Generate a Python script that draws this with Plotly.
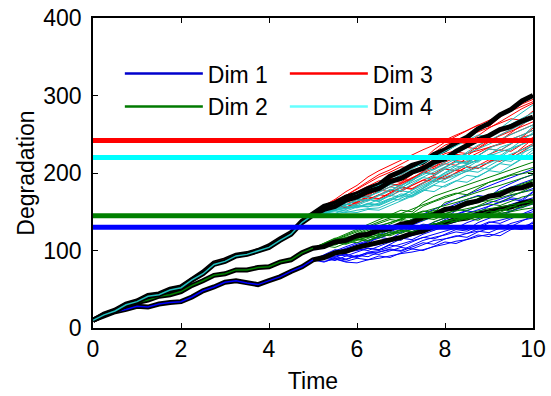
import plotly.graph_objects as go

# ---------------- data ----------------
TIME = [0.0, 0.25, 0.5, 0.75, 1.0, 1.25, 1.5, 1.75, 2.0, 2.25, 2.5, 2.75, 3.0, 3.25,
        3.5, 3.75, 4.0, 4.25, 4.5, 4.75, 5.0, 5.25, 5.5, 5.75, 6.0, 6.25, 6.5, 6.75,
        7.0, 7.25, 7.5, 7.75, 8.0, 8.25, 8.5, 8.75, 9.0, 9.25, 9.5, 9.75, 10.0]
OBS_END = 20  # index of t = 5 (end of observed part)
FAN_TIME = TIME[OBS_END:]

DIM_NAMES = ["Dim 1", "Dim 2", "Dim 3", "Dim 4"]

TRUE_DIM1 = [10, 15, 21, 24, 28, 27, 31, 33, 34, 40, 48, 53, 59, 61, 58, 56, 61, 66, 73, 79,
             88, 91, 97, 99, 104, 107, 110, 113, 117, 122, 125, 131, 135, 140, 142, 147,
             150, 154, 156, 161, 164]
TRUE_DIM2 = [10, 17, 22, 29, 33, 36, 41, 43, 47, 55, 61, 68, 70, 75, 75, 78, 79, 85, 88, 97,
             103, 105, 111, 113, 119, 121, 126, 128, 134, 136, 143, 146, 153, 155, 161, 164,
             170, 172, 179, 181, 186]
TRUE_DIM3 = [10, 18, 23, 31, 35, 42, 44, 50, 53, 63, 72, 84, 88, 94, 96, 100, 106, 115, 123,
             138, 148, 157, 161, 169, 173, 180, 185, 196, 202, 210, 214, 224, 230, 239, 246,
             257, 264, 275, 282, 293, 300]
TRUE_DIM4 = [10, 17, 22, 30, 34, 41, 43, 49, 52, 62, 70, 82, 86, 93, 95, 99, 104, 113, 121,
             136, 146, 153, 157, 165, 169, 176, 180, 189, 193, 201, 206, 214, 218, 228, 235,
             243, 248, 256, 260, 267, 272]

FAN_DIM1 = [
    [88, 86, 89, 85, 84, 88, 90, 93, 96, 98, 101, 105, 108, 112, 114, 118, 121, 119, 127, 131, 135],
    [88, 91, 93, 95, 92, 98, 100, 104, 108, 112, 116, 121, 125, 129, 127, 136, 142, 147, 151, 156, 160],
    [88, 92, 96, 100, 103, 107, 110, 115, 113, 124, 131, 137, 142, 147, 152, 157, 161, 166, 171, 175, 180],
    [88, 93, 99, 104, 108, 113, 118, 124, 130, 136, 143, 149, 155, 160, 166, 171, 169, 180, 187, 193, 198],
    [88, 90, 87, 93, 91, 96, 95, 99, 104, 102, 108, 113, 115, 118, 122, 125, 123, 129, 135, 139, 142],
    [88, 91, 95, 98, 100, 103, 101, 108, 115, 119, 124, 128, 133, 137, 142, 147, 151, 155, 160, 164, 168],
    [88, 93, 98, 102, 106, 111, 115, 121, 127, 133, 139, 144, 142, 152, 161, 166, 171, 176, 181, 187, 192],
    [88, 90, 92, 89, 93, 97, 98, 102, 100, 106, 113, 117, 120, 124, 122, 128, 136, 139, 143, 147, 150],
    [88, 92, 95, 99, 102, 105, 108, 113, 118, 123, 128, 126, 138, 143, 148, 153, 158, 162, 166, 164, 175],
    [88, 94, 100, 105, 110, 108, 120, 127, 133, 140, 147, 153, 160, 166, 172, 178, 184, 189, 194, 200, 205],
    [88, 85, 90, 88, 94, 92, 98, 101, 99, 105, 110, 108, 115, 119, 117, 124, 129, 133, 131, 138, 145],
    [88, 93, 91, 97, 102, 100, 106, 111, 116, 114, 121, 126, 131, 129, 136, 141, 146, 144, 151, 157, 163],
    [88, 91, 89, 86, 90, 88, 93, 91, 97, 102, 100, 106, 111, 109, 115, 120, 118, 124, 129, 127, 137],
    [88, 95, 101, 99, 106, 112, 117, 115, 123, 129, 134, 132, 140, 146, 151, 149, 157, 163, 168, 166, 176],
    [88, 90, 95, 93, 98, 103, 101, 107, 105, 111, 117, 115, 121, 127, 125, 131, 137, 135, 141, 148, 153],
]
FAN_DIM2 = [
    [103, 107, 111, 109, 115, 121, 125, 130, 135, 140, 145, 150, 155, 152, 160, 167, 172, 176, 181, 186, 190],
    [103, 108, 114, 119, 124, 130, 135, 140, 138, 148, 157, 163, 168, 173, 178, 184, 189, 194, 199, 203, 207],
    [103, 106, 109, 111, 114, 112, 118, 121, 124, 127, 130, 134, 138, 140, 142, 139, 146, 148, 150, 153, 155],
    [103, 108, 112, 117, 121, 126, 130, 136, 141, 146, 151, 149, 162, 166, 171, 175, 180, 184, 189, 193, 198],
    [103, 106, 110, 113, 116, 119, 122, 126, 131, 135, 139, 144, 148, 151, 154, 157, 160, 158, 164, 169, 172],
    [103, 109, 115, 121, 127, 134, 140, 146, 152, 150, 162, 170, 175, 180, 185, 190, 195, 200, 205, 209, 214],
    [103, 107, 112, 116, 120, 124, 128, 126, 134, 140, 144, 148, 152, 155, 158, 162, 165, 168, 172, 175, 178],
    [103, 107, 112, 117, 116, 124, 132, 136, 141, 145, 150, 154, 158, 162, 166, 170, 168, 176, 181, 185, 188],
    [103, 105, 108, 111, 114, 117, 120, 123, 127, 130, 128, 137, 142, 145, 148, 151, 154, 156, 159, 161, 163],
    [103, 108, 114, 120, 126, 131, 137, 142, 148, 153, 159, 164, 170, 174, 172, 180, 188, 192, 197, 199, 202],
    [103, 106, 104, 110, 115, 113, 119, 124, 122, 128, 133, 131, 137, 142, 140, 146, 151, 149, 156, 161, 166],
    [103, 109, 107, 114, 120, 118, 125, 131, 129, 136, 142, 140, 147, 153, 151, 158, 164, 162, 169, 176, 183],
    [103, 105, 110, 108, 113, 118, 116, 121, 126, 124, 130, 135, 133, 139, 144, 142, 148, 153, 151, 157, 160],
    [103, 110, 116, 114, 122, 128, 126, 134, 140, 138, 146, 152, 150, 158, 164, 162, 170, 176, 174, 182, 192],
    [103, 104, 108, 112, 110, 116, 121, 119, 125, 130, 128, 134, 139, 137, 143, 148, 146, 152, 157, 155, 162],
]
FAN_DIM3 = [
    [148, 151, 156, 154, 160, 166, 172, 170, 178, 184, 190, 197, 205, 203, 211, 218, 224, 230, 228, 237, 246],
    [148, 153, 158, 163, 161, 172, 180, 186, 192, 190, 200, 210, 220, 226, 233, 231, 240, 249, 256, 264, 270],
    [148, 155, 162, 168, 176, 183, 190, 188, 198, 207, 215, 224, 232, 240, 238, 248, 258, 266, 275, 283, 290],
    [148, 156, 165, 171, 180, 190, 198, 204, 212, 219, 217, 230, 240, 247, 255, 262, 260, 272, 281, 289, 295],
    [148, 152, 160, 166, 171, 179, 185, 190, 188, 198, 208, 218, 225, 229, 234, 240, 244, 242, 250, 256, 262],
    [148, 150, 157, 155, 163, 170, 176, 182, 187, 194, 200, 206, 212, 210, 219, 226, 233, 238, 243, 249, 255],
    [148, 157, 163, 171, 178, 186, 195, 201, 208, 206, 216, 227, 236, 241, 248, 253, 259, 264, 270, 268, 280],
    [148, 154, 159, 166, 172, 170, 182, 188, 193, 199, 206, 212, 218, 224, 222, 232, 242, 248, 254, 260, 266],
    [148, 158, 166, 176, 184, 195, 203, 210, 217, 223, 230, 236, 243, 249, 255, 262, 268, 274, 280, 286, 292],
    [148, 153, 157, 164, 168, 173, 178, 176, 186, 193, 202, 208, 215, 220, 225, 229, 233, 237, 241, 246, 250],
    [148, 154, 152, 159, 166, 164, 172, 178, 176, 184, 191, 189, 197, 204, 202, 210, 217, 215, 223, 230, 238],
    [148, 156, 154, 163, 171, 169, 178, 186, 184, 193, 201, 199, 208, 216, 214, 223, 231, 229, 238, 246, 258],
    [148, 152, 158, 156, 163, 169, 167, 175, 182, 180, 188, 195, 193, 201, 208, 206, 214, 221, 219, 228, 236],
    [148, 159, 157, 167, 176, 174, 184, 193, 191, 201, 210, 208, 218, 227, 225, 235, 244, 242, 252, 261, 272],
    [148, 151, 157, 155, 162, 168, 166, 174, 181, 179, 187, 194, 192, 200, 208, 206, 215, 223, 221, 232, 244],
]
FAN_DIM4 = [
    [146, 149, 151, 149, 152, 154, 155, 161, 167, 174, 180, 188, 195, 199, 205, 210, 213, 219, 224, 230, 235],
    [146, 150, 153, 157, 155, 160, 165, 171, 169, 178, 188, 197, 205, 210, 216, 214, 224, 233, 238, 244, 250],
    [146, 152, 157, 163, 166, 171, 175, 182, 180, 190, 200, 210, 218, 216, 227, 236, 242, 249, 256, 263, 270],
    [146, 153, 160, 166, 172, 178, 183, 190, 198, 205, 213, 220, 228, 235, 242, 249, 247, 258, 268, 278, 288],
    [146, 149, 152, 155, 157, 159, 160, 166, 173, 171, 181, 191, 200, 206, 211, 217, 222, 227, 232, 237, 242],
    [146, 151, 155, 160, 158, 164, 170, 177, 184, 191, 198, 205, 212, 218, 225, 231, 237, 243, 250, 256, 262],
    [146, 148, 147, 150, 149, 153, 152, 158, 164, 170, 178, 185, 192, 197, 202, 207, 205, 213, 220, 226, 232],
    [146, 152, 158, 163, 169, 174, 178, 185, 192, 200, 207, 204, 215, 225, 233, 241, 249, 256, 263, 271, 278],
    [146, 150, 155, 159, 164, 166, 163, 172, 181, 188, 195, 201, 208, 214, 212, 222, 232, 238, 243, 249, 255],
    [146, 148, 152, 154, 156, 157, 158, 164, 171, 178, 185, 191, 198, 204, 211, 217, 222, 220, 230, 238, 245],
    [146, 150, 148, 153, 158, 156, 162, 167, 165, 172, 178, 176, 184, 190, 188, 196, 203, 201, 210, 218, 226],
    [146, 153, 151, 159, 166, 164, 172, 179, 177, 186, 194, 192, 201, 209, 207, 216, 224, 222, 232, 241, 252],
    [146, 148, 153, 151, 156, 161, 159, 165, 171, 169, 177, 184, 182, 190, 197, 195, 204, 212, 210, 219, 230],
    [146, 155, 153, 162, 170, 168, 177, 185, 183, 192, 200, 198, 207, 215, 213, 222, 231, 229, 238, 247, 260],
    [146, 151, 156, 154, 160, 166, 164, 171, 177, 175, 183, 190, 188, 196, 203, 201, 209, 217, 215, 224, 238],
]

THRESHOLDS = [130, 145, 242, 220]

# ---------------- styling ----------------
LINE_COLORS = ["#0000FF", "#008000", "#FF0000", "#1FBFBF"]
THRESH_COLORS = ["#0000FF", "#008000", "#FF0000", "#00FFFF"]
LEGEND_COLORS = ["#0000CC", "#007A00", "#FF0000", "#66FFFF"]
LEGEND_RANK = [1, 3, 2, 4]  # two-column layout: Dim1 Dim3 / Dim2 Dim4

TRUES = [TRUE_DIM1, TRUE_DIM2, TRUE_DIM3, TRUE_DIM4]
FANS = [FAN_DIM1, FAN_DIM2, FAN_DIM3, FAN_DIM4]

fig = go.Figure()

for i in range(4):
    true = TRUES[i]
    # fan of predicted paths
    fx, fy = [], []
    for path in FANS[i]:
        fx += FAN_TIME + [None]
        fy += path + [None]
    fig.add_trace(go.Scatter(x=fx, y=fy, mode="lines", showlegend=False,
                             line=dict(color=LINE_COLORS[i], width=1),
                             hoverinfo="skip"))
    # true degradation path (thick black)
    fig.add_trace(go.Scatter(x=TIME, y=true, mode="lines", showlegend=False,
                             line=dict(color="black", width=5), hoverinfo="skip"))
    # observed part in dimension colour
    fig.add_trace(go.Scatter(x=TIME[:OBS_END + 1], y=true[:OBS_END + 1], mode="lines",
                             showlegend=False, line=dict(color=LINE_COLORS[i], width=1.5),
                             hoverinfo="skip"))

for i in range(4):
    fig.add_trace(go.Scatter(x=[None], y=[None], mode="lines", name=DIM_NAMES[i],
                             legendrank=LEGEND_RANK[i],
                             line=dict(color=LEGEND_COLORS[i], width=2.5)))
    fig.add_hline(y=THRESHOLDS[i], line=dict(color=THRESH_COLORS[i], width=5), layer="above")

FONT = "Arial, 'Liberation Sans', Helvetica, sans-serif"
FS = 23
axis_common = dict(showline=True, linecolor="black", linewidth=1.5, mirror="ticks",
                   ticks="inside", ticklen=5, tickcolor="black", tickwidth=1,
                   showgrid=False, zeroline=False, automargin=False,
                   tickfont=dict(size=FS, color="black", family=FONT))

fig.update_layout(
    width=551, height=396,
    margin=dict(l=93, r=18, t=18, b=68),
    paper_bgcolor="white", plot_bgcolor="white",
    font=dict(family=FONT, size=FS, color="black"),
    showlegend=True,
    legend=dict(orientation="h", x=0.061, y=0.89, xanchor="left", yanchor="top",
                bgcolor="rgba(0,0,0,0)", itemwidth=78, entrywidth=72,
                traceorder="normal", font=dict(size=FS, family=FONT, color="black"),
                tracegroupgap=0),
    xaxis=dict(range=[0, 10], tickvals=[0, 2, 4, 6, 8, 10],
               title=dict(text="Time", font=dict(size=FS, family=FONT), standoff=12),
               **axis_common),
    yaxis=dict(range=[0, 400], tickvals=[0, 100, 200, 300, 400], ticklabelstandoff=5,
               title=dict(text="Degradation", font=dict(size=FS, family=FONT), standoff=2),
               **axis_common),
)

# remove the browser's default page margin so the 551x396 figure fills the window
fig.write_html("out.html", config={"displayModeBar": False},
               post_script="document.body.style.margin='0';")
